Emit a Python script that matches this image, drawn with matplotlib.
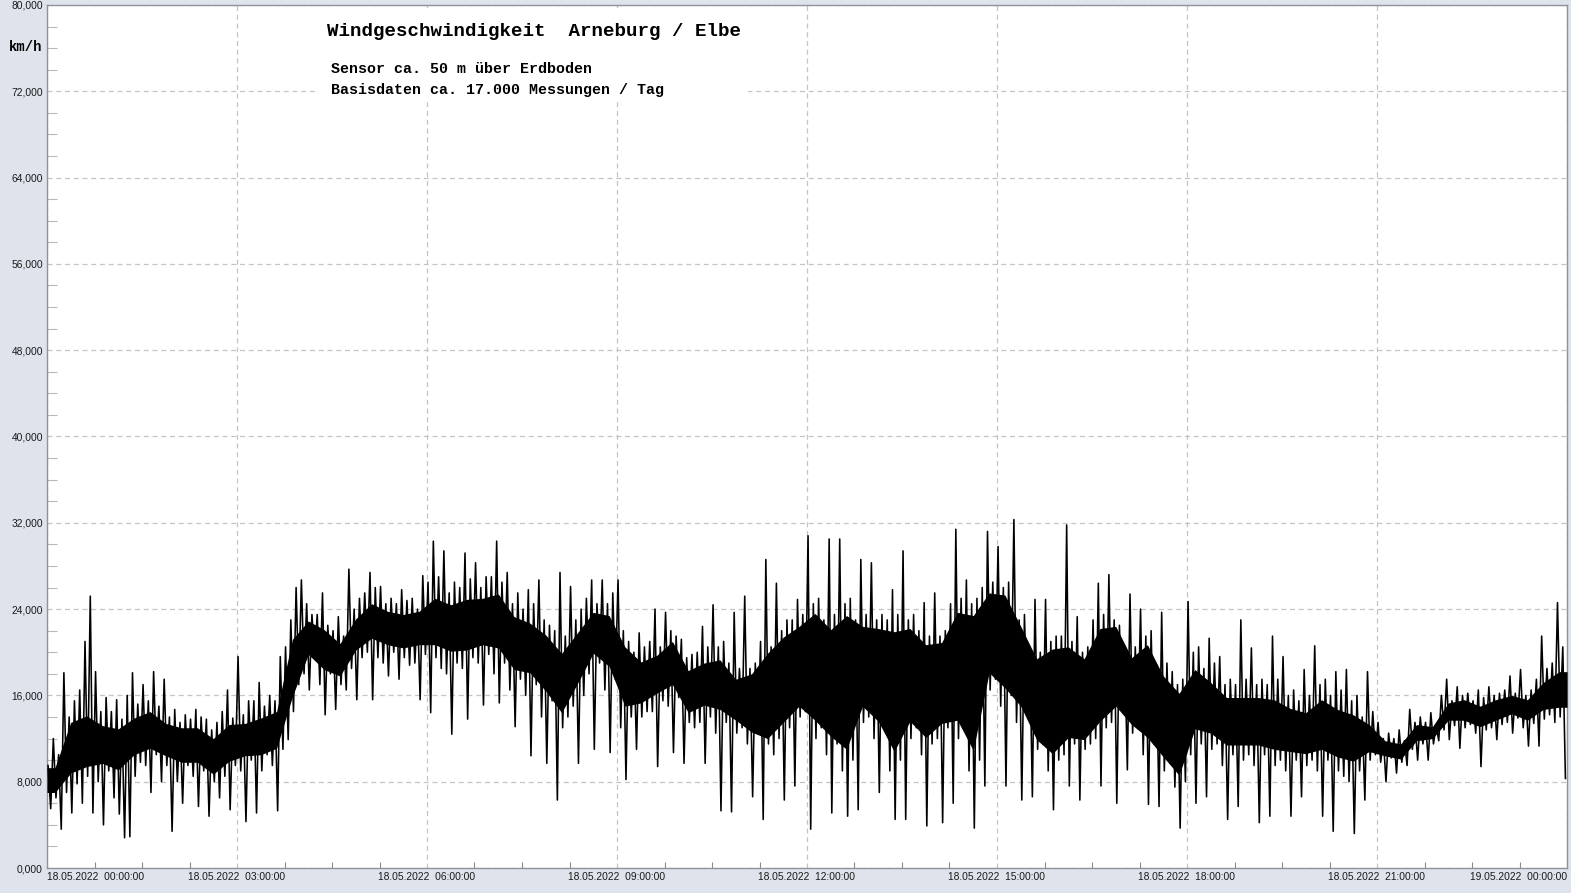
import numpy as np
import matplotlib
matplotlib.use("Agg")
import matplotlib.pyplot as plt
from matplotlib.ticker import MultipleLocator, FuncFormatter
from matplotlib.patches import Rectangle

# ---- data (km/h) ----
# solid (densest) part of the trace, 15-minute bins from 18.05.2022 00:00
dense_hi = [9.3, 13.5, 14.1, 13.2, 12.9, 13.9, 14.5, 13.4, 13.0, 13.0, 12.0, 13.3, 13.4, 13.9, 14.5, 21.2,
            22.9, 22.1, 20.8, 23.1, 24.5, 23.8, 23.5, 23.8, 25.0, 24.4, 24.9, 25.0, 25.4, 23.3, 22.7, 21.6,
            19.9, 21.8, 23.7, 23.4, 20.5, 19.1, 19.7, 21.0, 18.3, 19.0, 19.3, 17.5, 18.0, 19.9, 21.4, 22.4,
            23.6, 22.1, 23.4, 22.4, 22.2, 21.9, 22.2, 20.7, 20.9, 23.7, 23.4, 25.5, 25.3, 22.4, 19.4, 20.3,
            20.5, 19.4, 22.2, 22.4, 19.5, 20.7, 17.8, 16.2, 18.4, 17.2, 15.8, 15.8, 15.8, 15.6, 14.8, 14.4,
            15.6, 14.7, 14.2, 13.3, 11.8, 11.5, 13.3, 13.1, 15.3, 15.6, 15.0, 15.6, 16.0, 15.6, 17.2, 18.2]
dense_lo = [7.0, 8.8, 9.4, 9.7, 9.1, 10.5, 11.1, 10.4, 9.8, 9.8, 8.7, 9.9, 10.4, 10.5, 11.1, 15.9,
            19.8, 18.4, 17.8, 20.2, 21.3, 20.7, 20.4, 20.7, 20.7, 20.1, 20.2, 20.7, 20.4, 18.4, 18.1, 16.4,
            14.4, 17.1, 19.9, 18.7, 15.0, 15.3, 16.2, 17.0, 14.4, 15.1, 14.7, 13.7, 12.6, 12.0, 13.5, 15.0,
            13.7, 12.2, 11.0, 15.0, 13.6, 10.8, 13.6, 12.1, 13.4, 13.7, 10.9, 18.1, 16.7, 15.0, 11.9, 10.6,
            12.1, 11.9, 13.6, 15.0, 13.3, 12.1, 10.3, 8.6, 12.9, 12.5, 11.4, 11.4, 11.4, 11.0, 10.8, 10.6,
            11.0, 10.3, 9.9, 10.8, 10.4, 10.1, 11.8, 12.0, 13.7, 13.7, 13.1, 13.7, 14.3, 13.7, 14.7, 14.9]

# extremes per 5-minute interval (maximum / minimum of the measurements)
max5 = [9.5, 12.0, 10.5, 18.1, 14.0, 15.5, 16.5, 21.0, 25.2, 18.2, 14.5, 15.8,
        14.5, 15.6, 13.8, 16.0, 18.1, 15.2, 17.0, 15.5, 18.2, 15.0, 17.5, 14.0,
        14.7, 13.5, 14.2, 13.8, 14.7, 14.0, 13.8, 12.8, 13.5, 14.5, 16.5, 13.9,
        19.6, 14.2, 15.5, 15.5, 17.2, 15.0, 16.0, 15.5, 19.6, 20.5, 23.0, 26.0,
        26.7, 24.5, 23.5, 23.5, 25.5, 22.5, 22.0, 23.3, 21.5, 27.7, 24.0, 25.0,
        25.5, 27.4, 26.0, 26.1, 24.5, 25.0, 24.5, 25.8, 24.8, 25.0, 24.0, 27.1,
        26.5, 30.3, 27.0, 29.4, 25.5, 26.5, 26.0, 29.2, 26.8, 28.3, 26.0, 27.0,
        27.0, 30.3, 26.5, 27.4, 24.5, 25.5, 24.0, 25.8, 24.5, 26.7, 23.0, 22.5,
        22.0, 27.4, 21.5, 26.1, 23.0, 24.0, 25.0, 26.7, 24.5, 26.7, 24.5, 25.5,
        26.7, 22.0, 21.0, 20.0, 21.8, 20.5, 21.0, 24.0, 20.5, 23.7, 22.0, 21.5,
        21.2, 19.5, 19.8, 20.0, 22.4, 20.5, 24.4, 20.5, 21.0, 19.0, 23.7, 18.5,
        25.2, 18.5, 19.0, 21.0, 28.6, 20.5, 26.4, 22.0, 23.0, 23.0, 24.9, 23.5,
        30.8, 24.5, 25.0, 23.0, 30.5, 23.5, 30.5, 24.5, 25.0, 23.0, 28.6, 23.5,
        28.3, 23.0, 23.5, 23.0, 25.8, 23.5, 29.4, 23.0, 23.5, 22.0, 24.6, 21.5,
        25.5, 21.5, 22.0, 24.5, 31.4, 25.0, 26.7, 24.5, 25.0, 26.0, 31.2, 26.5,
        29.8, 26.0, 26.5, 32.3, 23.0, 23.5, 20.5, 24.9, 20.0, 24.9, 21.0, 21.5,
        21.5, 31.8, 21.0, 23.3, 20.0, 20.5, 23.0, 26.4, 23.5, 27.2, 23.0, 22.5,
        20.0, 25.4, 20.5, 24.0, 21.5, 22.0, 18.5, 23.7, 19.0, 18.2, 17.0, 17.5,
        24.7, 20.0, 20.5, 18.5, 21.3, 19.0, 19.6, 17.0, 17.5, 17.0, 23.0, 17.5,
        20.4, 17.0, 17.5, 17.0, 21.5, 17.5, 19.6, 16.0, 16.5, 15.5, 18.4, 16.0,
        20.6, 17.0, 17.5, 16.0, 18.2, 16.5, 18.4, 15.5, 16.0, 14.0, 18.2, 14.5,
        13.5, 12.0, 12.5, 12.0, 12.8, 11.8, 14.7, 13.5, 14.0, 13.5, 14.4, 13.2,
        16.0, 17.5, 15.5, 16.8, 16.0, 16.2, 15.5, 16.5, 15.8, 16.8, 16.0, 16.2,
        16.5, 17.8, 16.2, 18.4, 16.0, 16.5, 17.5, 21.5, 18.5, 19.0, 24.6, 20.5]
min5 = [5.5, 6.5, 3.6, 7.0, 5.1, 7.8, 6.0, 8.5, 5.1, 8.0, 4.0, 9.0,
        6.5, 5.0, 2.8, 2.9, 8.5, 9.8, 9.5, 7.0, 10.5, 8.0, 9.5, 3.4,
        8.0, 6.0, 9.5, 8.5, 5.7, 9.0, 4.8, 8.0, 6.5, 8.5, 5.4, 9.5,
        9.0, 4.3, 10.0, 5.1, 9.0, 10.5, 9.5, 5.3, 11.0, 11.9, 14.5, 17.0,
        18.0, 16.5, 19.5, 17.0, 14.2, 18.0, 14.7, 17.0, 16.5, 18.5, 15.6, 19.5,
        20.0, 15.6, 19.5, 19.0, 17.8, 20.0, 17.5, 19.5, 18.8, 19.0, 15.6, 19.8,
        14.4, 19.5, 18.5, 18.0, 12.4, 19.0, 18.5, 13.8, 19.5, 19.0, 15.1, 19.8,
        18.0, 15.3, 19.0, 16.5, 13.1, 17.5, 16.0, 10.4, 17.0, 14.0, 9.7, 15.5,
        6.3, 13.0, 14.0, 15.0, 9.7, 16.0, 18.0, 11.0, 19.0, 16.5, 10.7, 17.5,
        13.0, 8.2, 14.0, 11.0, 14.0, 14.5, 14.5, 9.4, 15.5, 15.0, 10.7, 15.8,
        9.7, 13.5, 13.0, 13.5, 9.7, 14.0, 12.5, 5.3, 13.5, 5.2, 12.5, 13.0,
        11.5, 6.6, 12.5, 4.5, 11.5, 10.5, 12.0, 6.3, 13.0, 7.6, 14.0, 14.5,
        3.6, 12.0, 13.0, 10.5, 5.1, 11.5, 9.0, 4.8, 10.0, 5.4, 13.5, 14.0,
        12.0, 7.0, 13.0, 9.0, 4.5, 10.0, 4.5, 12.0, 13.0, 10.5, 3.9, 11.5,
        12.0, 4.2, 13.0, 6.0, 12.0, 13.0, 9.0, 3.7, 10.0, 7.6, 16.5, 17.5,
        15.0, 7.6, 16.0, 13.5, 6.3, 14.5, 6.6, 11.0, 11.5, 9.0, 5.4, 10.0,
        10.5, 7.6, 11.5, 6.3, 11.0, 11.5, 12.0, 7.6, 13.0, 13.5, 6.0, 14.5,
        9.1, 12.5, 13.0, 10.5, 5.9, 11.5, 5.7, 9.0, 10.0, 7.5, 3.7, 8.0,
        10.5, 6.0, 11.5, 6.6, 11.0, 11.5, 9.5, 4.5, 10.5, 5.7, 10.0, 10.5,
        9.5, 4.2, 10.5, 4.8, 9.5, 10.0, 9.0, 4.8, 10.0, 6.6, 9.5, 10.0,
        9.0, 4.8, 10.0, 3.4, 9.0, 8.5, 8.0, 3.2, 9.0, 6.3, 10.0, 10.5,
        9.8, 8.0, 10.2, 8.8, 9.8, 9.5, 11.0, 10.0, 11.5, 10.0, 11.5, 11.8,
        12.8, 11.9, 13.2, 11.1, 13.0, 13.3, 12.5, 9.4, 12.8, 13.0, 11.9, 13.3,
        13.5, 12.5, 13.9, 13.0, 11.3, 13.4, 11.3, 13.8, 14.2, 13.5, 14.0, 8.3]

x_labels = ["18.05.2022  00:00:00", "18.05.2022  03:00:00", "18.05.2022  06:00:00",
            "18.05.2022  09:00:00", "18.05.2022  12:00:00", "18.05.2022  15:00:00",
            "18.05.2022  18:00:00", "18.05.2022  21:00:00", "19.05.2022  00:00:00"]
title = "Windgeschwindigkeit  Arneburg / Elbe"
sub1 = "Sensor ca. 50 m über Erdboden"
sub2 = "Basisdaten ca. 17.000 Messungen / Tag"
unit = "km/h"

# ---- figure ----
W, H = 1571, 893
fig = plt.figure(figsize=(W / 100, H / 100), dpi=100, facecolor="#dfe4ec")
ax = fig.add_axes([47 / W, 1 - 868 / H, (1567 - 47) / W, (868 - 5) / H])
ax.set_facecolor("white")

dense_hi = np.array(dense_hi); dense_lo = np.array(dense_lo)
max5 = np.array(max5); min5 = np.array(min5)

# dense band
tc = np.arange(len(dense_hi)) * 0.25 + 0.125
xs = np.r_[0.0, tc, 24.0]
ax.fill_between(xs, np.r_[dense_lo[0], dense_lo, dense_lo[-1]],
                np.r_[dense_hi[0], dense_hi, dense_hi[-1]], color="black", lw=0, zorder=3)

# trace through the 5-minute extremes
t5 = np.arange(len(max5)) * (5 / 60)
tx = np.empty(2 * len(t5)); ty = np.empty(2 * len(t5))
tx[0::2] = t5 + 1.0 / 60; ty[0::2] = max5
tx[1::2] = t5 + 3.5 / 60; ty[1::2] = min5
ax.plot(tx, ty, color="black", lw=1.15, zorder=4)

ax.set_xlim(0, 24)
ax.set_ylim(0, 80)

ax.xaxis.set_major_locator(MultipleLocator(3))
ax.xaxis.set_minor_locator(MultipleLocator(0.75))
ax.yaxis.set_major_locator(MultipleLocator(8))
ax.yaxis.set_minor_locator(MultipleLocator(2))
ax.grid(True, which="major", color="#c4c4c4", lw=0.9, ls=(0, (4, 3)), zorder=1)
ax.set_axisbelow(True)

ax.yaxis.set_major_formatter(FuncFormatter(lambda v, p: f"{v:.3f}".replace(".", ",")))
ax.tick_params(axis="y", which="major", length=0, pad=3, labelsize=7.4, labelcolor="#1a1a1a")
ax.tick_params(axis="y", which="minor", direction="in", length=7, color="#b8b8b8", width=0.8)
ax.tick_params(axis="x", which="major", length=0, pad=3, labelsize=7.4, labelcolor="#1a1a1a")
ax.tick_params(axis="x", which="minor", direction="in", length=4, color="#8a8a8a", width=0.8)
ax.set_xticks(np.arange(0, 25, 3))
ax.set_xticklabels(x_labels, fontfamily="Liberation Sans")
for lab in ax.get_yticklabels():
    lab.set_fontfamily("Liberation Sans")
xl = ax.get_xticklabels()
xl[0].set_ha("left")
xl[-1].set_ha("right")
yl = ax.get_yticklabels()
yl[0].set_va("bottom")
yl[-1].set_va("top")

for s in ax.spines.values():
    s.set_color("#8f949c")
    s.set_linewidth(1.0)

# white box behind title texts
fig.patches.append(Rectangle((318 / W, 1 - 100 / H), (748 - 318) / W, (100 - 8) / H,
                             transform=fig.transFigure, facecolor="white", edgecolor="none", zorder=2))

mono = ["Liberation Mono", "DejaVu Sans Mono"]
fig.text(327 / W, 1 - 32 / H, title, family=mono, weight="bold", fontsize=13.8, va="center", ha="left", zorder=5)
fig.text(331 / W, 1 - 69 / H, sub1, family=mono, weight="bold", fontsize=10.85, va="center", ha="left", zorder=5)
fig.text(331 / W, 1 - 90 / H, sub2, family=mono, weight="bold", fontsize=10.85, va="center", ha="left", zorder=5)
fig.text(26 / W, 1 - 47 / H, unit, family=mono, weight="bold", fontsize=10, va="center", ha="center")

fig.savefig("out.png", dpi=100, facecolor=fig.get_facecolor())
